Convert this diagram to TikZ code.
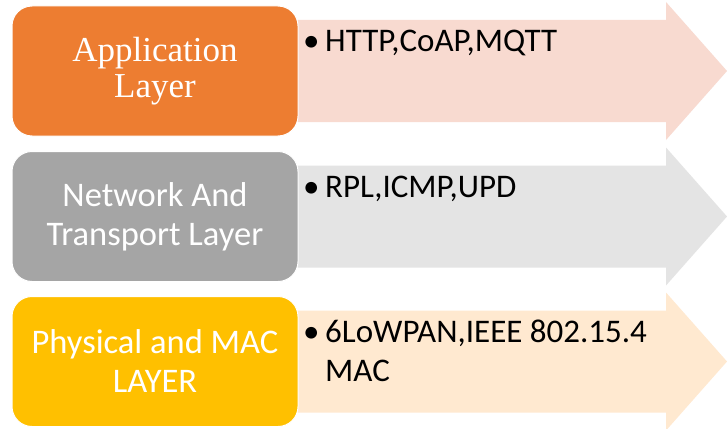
\documentclass[tikz,border=0pt]{standalone}
\usepackage{fontspec}
\setmainfont{Carlito}
\newfontfamily\seriffont{Liberation Serif}
\definecolor{orangebox}{HTML}{ED7D31}
\definecolor{graybox}{HTML}{A5A5A5}
\definecolor{yellowbox}{HTML}{FFC000}
\definecolor{pinkarrow}{RGB}{248,218,208}
\definecolor{grayarrow}{RGB}{228,228,228}
\definecolor{peacharrow}{RGB}{255,233,208}
\tikzset{
  layerbox/.style={draw=white, line width=1pt, rounded corners=20pt, minimum width=286pt, minimum height=130pt, inner sep=0pt, text=white, align=center},
  calfont/.style={font=\fontsize{34.5}{39}\selectfont},
  itemtext/.style={anchor=base west, inner sep=0pt, font=\fontsize{33}{39}\selectfont},
}
\newcommand{\layerarrow}[2]{%
  \fill[#2] (298,{-(#1)+51}) -- (666,{-(#1)+51}) -- (666,{-(#1)+69}) -- (727,{-(#1)}) -- (666,{-(#1)-69}) -- (666,{-(#1)-51}) -- (298,{-(#1)-51}) -- cycle;}
\begin{document}
\begin{tikzpicture}[x=1pt,y=1pt]
\useasboundingbox (0,0) rectangle (727,-428);
\clip (0,0) rectangle (727,-428);
\fill[white] (0,0) rectangle (727,-428);
% arrows
\layerarrow{71}{pinkarrow}
\layerarrow{216.5}{grayarrow}
\layerarrow{361.5}{peacharrow}
% boxes
\node[layerbox, fill=orangebox, font=\seriffont\fontsize{35}{36}\selectfont] (app) at (155,-71) {Application\\Layer};
\node[layerbox, fill=graybox, calfont] (net) at (155,-216.5) {Network And\\Transport Layer};
\node[layerbox, fill=yellowbox, calfont] (phy) at (155,-361.5) {Physical and MAC\\LAYER};
% items
\node[itemtext] (b1) at (303,-52) {\textbullet};
\node[itemtext] (t1) at (325,-52) {HTTP,CoAP,MQTT};
\node[itemtext] (b2) at (303,-197.5) {\textbullet};
\node[itemtext] (t2) at (325,-197.5) {RPL,ICMP,UPD};
\node[itemtext] (b3) at (303,-342.5) {\textbullet};
\node[itemtext] (t3) at (325,-342.5) {6LoWPAN,IEEE 802.15.4};
\node[itemtext] (t3b) at (325,-381.5) {MAC};
\end{tikzpicture}
\end{document}
